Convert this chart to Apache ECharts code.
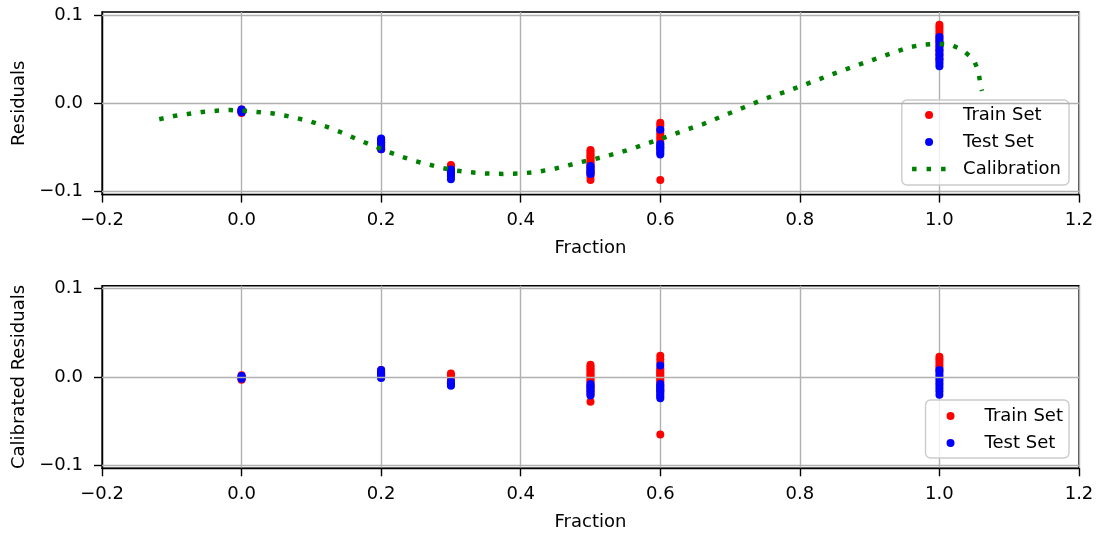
<!DOCTYPE html>
<html>
<head>
<meta charset="utf-8">
<script src="https://cdn.jsdelivr.net/npm/echarts@6/dist/echarts.min.js"></script>
<style>
html,body{margin:0;padding:0;background:#fff;}
#chart{width:1097px;height:533px;}
</style>
</head>
<body>
<div id="chart"></div>
<script>
// ---------- data ----------
const xTicks = [-0.2, 0.0, 0.2, 0.4, 0.6, 0.8, 1.0, 1.2];
const yTicks = [-0.1, 0.0, 0.1];

// Top panel: residuals
const trainTop = [
  [0, -0.007], [0, -0.008], [0, -0.009], [0, -0.010], [0, -0.011],
  [0.2, -0.041], [0.2, -0.044], [0.2, -0.047], [0.2, -0.050], [0.2, -0.052],
  [0.3, -0.070], [0.3, -0.072], [0.3, -0.074], [0.3, -0.076], [0.3, -0.078], [0.3, -0.080],
  [0.5, -0.053], [0.5, -0.055], [0.5, -0.057], [0.5, -0.059], [0.5, -0.061], [0.5, -0.063],
  [0.5, -0.065], [0.5, -0.067], [0.5, -0.069], [0.5, -0.071], [0.5, -0.074], [0.5, -0.077],
  [0.5, -0.080], [0.5, -0.083], [0.5, -0.087],
  [0.6, -0.022], [0.6, -0.025], [0.6, -0.028], [0.6, -0.031], [0.6, -0.034], [0.6, -0.037],
  [0.6, -0.040], [0.6, -0.043], [0.6, -0.046], [0.6, -0.050], [0.6, -0.087],
  [1.0, 0.089], [1.0, 0.086], [1.0, 0.083], [1.0, 0.080], [1.0, 0.077], [1.0, 0.074],
  [1.0, 0.070], [1.0, 0.065], [1.0, 0.060], [1.0, 0.055], [1.0, 0.050]
];
const testTop = [
  [0, -0.007], [0, -0.008], [0, -0.009], [0, -0.010],
  [0.2, -0.040], [0.2, -0.042], [0.2, -0.044], [0.2, -0.046], [0.2, -0.048], [0.2, -0.050], [0.2, -0.052],
  [0.3, -0.075], [0.3, -0.077], [0.3, -0.079], [0.3, -0.081], [0.3, -0.083], [0.3, -0.086],
  [0.5, -0.071], [0.5, -0.073], [0.5, -0.075], [0.5, -0.077], [0.5, -0.079], [0.5, -0.080],
  [0.6, -0.030], [0.6, -0.046], [0.6, -0.048], [0.6, -0.050], [0.6, -0.052], [0.6, -0.054],
  [0.6, -0.056], [0.6, -0.058],
  [1.0, 0.075], [1.0, 0.072], [1.0, 0.069], [1.0, 0.066], [1.0, 0.063], [1.0, 0.060],
  [1.0, 0.057], [1.0, 0.054], [1.0, 0.051], [1.0, 0.048], [1.0, 0.045], [1.0, 0.042]
];
const calX = [-0.118, -0.097, -0.077, -0.057, -0.036, -0.016, 0.002, 0.023, 0.043, 0.063, 0.082,
  0.100, 0.120, 0.140, 0.157, 0.175, 0.194, 0.212, 0.231, 0.250, 0.269, 0.288, 0.308, 0.328,
  0.350, 0.375, 0.400, 0.425, 0.450, 0.466, 0.485, 0.505, 0.525, 0.544, 0.563, 0.582, 0.601,
  0.620, 0.639, 0.660, 0.700, 0.750, 0.800, 0.850, 0.900, 0.956, 0.976, 0.996, 1.016, 1.033,
  1.049, 1.056, 1.059, 1.061];
const calY = [-0.0180, -0.0144, -0.0121, -0.0099, -0.0084, -0.0076, -0.0084, -0.0099, -0.0113, -0.0140, -0.0174,
  -0.0210, -0.0260, -0.0320, -0.0378, -0.0438, -0.0498, -0.0555, -0.0608, -0.0657, -0.0695, -0.0733, -0.0763, -0.0781,
  -0.0795, -0.0800, -0.0795, -0.0775, -0.0738, -0.0707, -0.0668, -0.0634, -0.0593, -0.0552, -0.0506, -0.0453, -0.0401,
  -0.0348, -0.0294, -0.0240, -0.0110, 0.0050, 0.0190, 0.0340, 0.0480, 0.0634, 0.0664, 0.0675, 0.0664, 0.0604,
  0.0498, 0.0358, 0.0196, 0.0140];

// Bottom panel: calibrated residuals
const trainBottom = [
  [0, 0.002], [0, 0.000], [0, -0.002], [0, -0.003],
  [0.2, 0.008], [0.2, 0.004], [0.2, 0.000],
  [0.3, 0.004], [0.3, 0.002], [0.3, 0.000], [0.3, -0.002], [0.3, -0.004], [0.3, -0.006],
  [0.5, 0.014], [0.5, 0.012], [0.5, 0.010], [0.5, 0.008], [0.5, 0.006], [0.5, 0.004],
  [0.5, 0.002], [0.5, 0.000], [0.5, -0.002], [0.5, -0.004], [0.5, -0.006], [0.5, -0.009],
  [0.5, -0.012], [0.5, -0.016], [0.5, -0.020], [0.5, -0.028],
  [0.6, 0.024], [0.6, 0.020], [0.6, 0.016], [0.6, 0.010], [0.6, 0.008], [0.6, 0.006], [0.6, 0.004],
  [0.6, 0.002], [0.6, 0.000], [0.6, -0.002], [0.6, -0.004], [0.6, -0.006], [0.6, -0.010],
  [0.6, -0.015], [0.6, -0.065],
  [1.0, 0.023], [1.0, 0.020], [1.0, 0.017], [1.0, 0.014], [1.0, 0.011], [1.0, 0.008]
];
const testBottom = [
  [0, 0.001], [0, 0.000], [0, -0.001], [0, -0.002],
  [0.2, 0.008], [0.2, 0.006], [0.2, 0.004], [0.2, 0.002], [0.2, 0.000], [0.2, -0.001],
  [0.3, -0.005], [0.3, -0.007], [0.3, -0.009], [0.3, -0.010],
  [0.5, -0.008], [0.5, -0.010], [0.5, -0.012], [0.5, -0.014], [0.5, -0.016], [0.5, -0.018], [0.5, -0.021],
  [0.6, 0.013], [0.6, -0.008], [0.6, -0.010], [0.6, -0.012], [0.6, -0.014], [0.6, -0.016],
  [0.6, -0.018], [0.6, -0.020], [0.6, -0.022], [0.6, -0.024],
  [1.0, 0.008], [1.0, 0.005], [1.0, 0.002], [1.0, -0.001], [1.0, -0.004], [1.0, -0.007],
  [1.0, -0.010], [1.0, -0.013], [1.0, -0.016], [1.0, -0.020]
];

// ---------- chart ----------
const FONT = 'DejaVu Sans';
const FS = 18;
const fmt = v => (Math.abs(v) < 1e-9 ? '0.0' : (v < 0 ? '\u2212' : '') + Math.abs(v).toFixed(1));

function xAxisCfg(gi) {
  return {
    type: 'value', gridIndex: gi, min: xTicks[0], max: xTicks[xTicks.length - 1], interval: 0.2,
    name: 'Fraction', nameLocation: 'middle', nameGap: 45,
    nameTextStyle: { fontFamily: FONT, fontSize: FS, color: '#000' },
    axisLine: { show: true, onZero: false, lineStyle: { color: '#000', width: 1.4 } },
    axisTick: { show: true, inside: false, length: 8, lineStyle: { color: '#000', width: 1.4 } },
    axisLabel: { fontFamily: FONT, fontSize: FS, color: '#000', margin: 17, formatter: fmt, showMinLabel: true, showMaxLabel: true },
    splitLine: { show: true, lineStyle: { color: '#b0b0b0', width: 1.4 } }
  };
}
function yAxisCfg(gi, name, gap) {
  return {
    type: 'value', gridIndex: gi, min: -0.1034, max: 0.1034,
    name: name, nameLocation: 'middle', nameGap: gap,
    nameTextStyle: { fontFamily: FONT, fontSize: FS, color: '#000' },
    axisLine: { show: true, onZero: false, lineStyle: { color: '#000', width: 1.4 } },
    axisTick: { show: true, inside: false, length: 8, customValues: yTicks, lineStyle: { color: '#000', width: 1.4 } },
    axisLabel: { fontFamily: FONT, fontSize: FS, color: '#000', margin: 19, formatter: fmt, customValues: yTicks },
    splitLine: { show: false }
  };
}
function gridLines(xi) {
  return {
    type: 'scatter', xAxisIndex: xi, yAxisIndex: xi, data: [], z: 1, silent: true,
    markLine: {
      silent: true, symbol: 'none', animation: false,
      label: { show: false },
      lineStyle: { color: '#b0b0b0', width: 1.4, type: 'solid' },
      emphasis: { disabled: true },
      data: yTicks.map(v => ({ yAxis: v }))
    }
  };
}
function scatter(name, data, color, xi, z) {
  return {
    name: name, type: 'scatter', xAxisIndex: xi, yAxisIndex: xi, data: data, z: z,
    symbol: 'circle', symbolSize: 8, itemStyle: { color: color, opacity: 1 }, silent: true
  };
}
const legendCommon = {
  orient: 'vertical', right: 28, itemWidth: 34, itemHeight: 8, itemGap: 9,
  backgroundColor: 'rgba(255,255,255,0.8)',
  borderColor: '#cccccc', borderWidth: 1.4, borderRadius: 5, selectedMode: false,
  formatter: name => '{g| }{t|' + name + '}',
  textStyle: {
    fontFamily: FONT, fontSize: FS, color: '#000',
    rich: {
      g: { width: 12, fontFamily: FONT, fontSize: FS },
      t: { fontFamily: FONT, fontSize: FS, color: '#000' }
    }
  }
};
const calLegendItem = {
  name: 'Calibration',
  itemStyle: { opacity: 0, color: 'transparent' },
  lineStyle: { color: '#008000', width: 4.5, type: [4.5, 10], cap: 'butt' }
};

const chart = echarts.init(document.getElementById('chart'), null, { renderer: 'canvas' });
chart.setOption({
  animation: false,
  backgroundColor: '#fff',
  textStyle: { fontFamily: FONT },
  grid: [
    { left: 102, right: 18, top: 12, height: 182.6, show: true, borderColor: '#000', borderWidth: 1.4, backgroundColor: 'transparent' },
    { left: 102, right: 18, top: 285.7, height: 182.6, show: true, borderColor: '#000', borderWidth: 1.4, backgroundColor: 'transparent' }
  ],
  xAxis: [xAxisCfg(0), xAxisCfg(1)],
  yAxis: [yAxisCfg(0, 'Residuals', 70), yAxisCfg(1, 'Calibrated Residuals', 72)],
  legend: [
    Object.assign({}, legendCommon, { top: 100, padding: [6, 8, 7, 8], data: ['Train Set', 'Test Set', calLegendItem] }),
    Object.assign({}, legendCommon, { top: 400, padding: [7, 6, 6, 21], data: ['Train Set', 'Test Set'] })
  ],
  series: [
    gridLines(0),
    gridLines(1),
    scatter('Train Set', trainTop, '#ff0000', 0, 3),
    scatter('Test Set', testTop, '#0000ff', 0, 4),
    {
      name: 'Calibration', type: 'line', xAxisIndex: 0, yAxisIndex: 0, z: 5, silent: true,
      data: calX.map((x, i) => [x, calY[i]]),
      symbol: 'none', showSymbol: false,
      itemStyle: { color: '#008000' },
      lineStyle: { color: '#008000', width: 4.5, type: [4.5, 9.5], cap: 'butt' }
    },
    scatter('Train Set', trainBottom, '#ff0000', 1, 3),
    scatter('Test Set', testBottom, '#0000ff', 1, 4)
  ]
});
</script>
</body>
</html>
